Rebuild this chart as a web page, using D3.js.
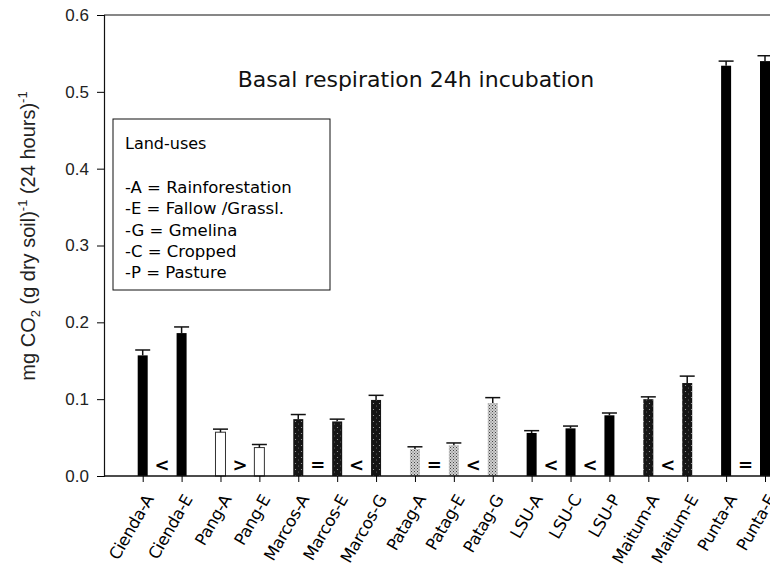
<!DOCTYPE html>
<html>
<head>
<meta charset="utf-8">
<script src="https://cdn.jsdelivr.net/npm/d3@7"></script>
<style>
  body { margin: 0; background: #fff; }
  svg { display: block; }
</style>
</head>
<body>
<script>

// land-use site categories, in plotting order
var categories = ["Cienda-A", "Cienda-E", "Pang-A", "Pang-E", "Marcos-A", "Marcos-E", "Marcos-G",
                  "Patag-A", "Patag-E", "Patag-G", "LSU-A", "LSU-C", "LSU-P",
                  "Maitum-A", "Maitum-E", "Punta-A", "Punta-E"];

// mean basal respiration (mg CO2 / g dry soil / 24h)
var means = [0.157, 0.186, 0.057, 0.037, 0.074, 0.071, 0.099, 0.035, 0.040, 0.095,
             0.056, 0.062, 0.079, 0.100, 0.121, 0.534, 0.540];

// standard error, drawn upward only
var errors = [0.007, 0.008, 0.004, 0.004, 0.006, 0.003, 0.006, 0.003, 0.003, 0.007,
              0.003, 0.003, 0.003, 0.003, 0.009, 0.006, 0.007];

// fill style per bar: black, open, dark speckle, light speckle
var fills = ["black", "black", "open", "open", "dark", "dark", "dark",
             "light", "light", "light", "black", "black", "black",
             "dark", "dark", "black", "black"];

// comparison signs printed between neighbouring bars
var compLeft  = ["Cienda-A", "Pang-A", "Marcos-A", "Marcos-E", "Patag-A", "Patag-E", "LSU-A", "LSU-C", "Maitum-A", "Punta-A"];
var compRight = ["Cienda-E", "Pang-E", "Marcos-E", "Marcos-G", "Patag-E", "Patag-G", "LSU-C", "LSU-P", "Maitum-E", "Punta-E"];
var compSigns = ["<", ">", "=", "<", "=", "<", "<", "<", "<", "="];

var yTicks = [0.0, 0.1, 0.2, 0.3, 0.4, 0.5, 0.6];

var legendTitle = "Land-uses";
var legendLines = ["-A = Rainforestation", "-E = Fallow /Grassl.", "-G = Gmelina", "-C = Cropped", "-P = Pasture"];

var title = "Basal respiration 24h incubation";

var width = 770, height = 577;
var margin = {top: 15, left: 104, bottom: 101};

var svg = d3.select("body")
  .append("svg")
  .attr("width", width)
  .attr("height", height);

var defs = svg.append("defs");

// dark speckled fill
var dark = defs.append("pattern")
  .attr("id", "dark")
  .attr("patternUnits", "userSpaceOnUse")
  .attr("width", 6).attr("height", 6);
dark.append("rect").attr("width", 6).attr("height", 6).attr("fill", "#151515");
dark.append("circle").attr("cx", 1.5).attr("cy", 1.5).attr("r", 0.6).attr("fill", "#aaa");
dark.append("circle").attr("cx", 4.5).attr("cy", 4).attr("r", 0.5).attr("fill", "#777");

// light crosshatch fill
var light = defs.append("pattern")
  .attr("id", "light")
  .attr("patternUnits", "userSpaceOnUse")
  .attr("width", 3).attr("height", 3);
light.append("rect").attr("width", 3).attr("height", 3).attr("fill", "#cfcfcf");
light.append("rect").attr("width", 1).attr("height", 1).attr("fill", "#444");
light.append("rect").attr("x", 1.5).attr("y", 1.5).attr("width", 1).attr("height", 1).attr("fill", "#666");

var yScale = d3.scaleLinear()
  .domain([0, 0.6])
  .range([height - margin.bottom, margin.top]);

// plot runs off the right edge, the last bar sits near 765
var xScale = d3.scalePoint()
  .domain(categories)
  .range([142.7, 765]);

var barW = 10, capW = 15;

var rows = categories.map(function(c, i){
  return {cat: c, mean: means[i], err: errors[i], fill: fills[i]};
});

function fillOf(d){
  if(d.fill === "black") return "#000";
  if(d.fill === "open") return "#fff";
  if(d.fill === "dark") return "url(#dark)";
  return "url(#light)";
}

// top frame line
svg.append("line")
  .attr("x1", margin.left).attr("x2", width + 10)
  .attr("y1", yScale(0.6)).attr("y2", yScale(0.6))
  .attr("stroke", "#111").attr("stroke-width", 1.2);

// title
svg.append("text")
  .attr("x", 416).attr("y", 87)
  .attr("text-anchor", "middle")
  .style("font-family", "'DejaVu Sans'")
  .style("font-size", "22px")
  .attr("fill", "#111")
  .text(title);

// legend box
var legend = svg.append("g").attr("transform", "translate(113,119)");
legend.append("rect")
  .attr("width", 217).attr("height", 171)
  .attr("fill", "#fff").attr("stroke", "#111").attr("stroke-width", 1);
legend.append("text")
  .attr("x", 12).attr("y", 30)
  .style("font-family", "'DejaVu Sans'").style("font-size", "16px")
  .text(legendTitle);
legend.selectAll(".entry")
  .data(legendLines)
  .enter()
  .append("text")
  .attr("class", "entry")
  .attr("x", 12)
  .attr("y", function(d, i){ return 74 + i * 21.3; })
  .style("font-family", "'DejaVu Sans'").style("font-size", "16.5px")
  .text(function(d){ return d; });

// bars
svg.selectAll(".bar")
  .data(rows)
  .enter()
  .append("rect")
  .attr("class", "bar")
  .attr("x", function(d){ return xScale(d.cat) - barW / 2; })
  .attr("y", function(d){ return yScale(d.mean); })
  .attr("width", barW)
  .attr("height", function(d){ return yScale(0) - yScale(d.mean); })
  .attr("fill", fillOf)
  .attr("stroke", function(d){ return d.fill === "open" ? "#333" : "none"; })
  .attr("stroke-width", 1);

// error bars (stem + cap)
var eb = svg.selectAll(".err")
  .data(rows)
  .enter()
  .append("g")
  .attr("class", "err")
  .attr("stroke", "#111")
  .attr("stroke-width", 1.5);
eb.append("line")
  .attr("x1", function(d){ return xScale(d.cat); })
  .attr("x2", function(d){ return xScale(d.cat); })
  .attr("y1", function(d){ return yScale(d.mean); })
  .attr("y2", function(d){ return yScale(d.mean + d.err); });
eb.append("line")
  .attr("x1", function(d){ return xScale(d.cat) - capW / 2; })
  .attr("x2", function(d){ return xScale(d.cat) + capW / 2; })
  .attr("y1", function(d){ return yScale(d.mean + d.err); })
  .attr("y2", function(d){ return yScale(d.mean + d.err); });

// comparison signs
svg.selectAll(".sign")
  .data(compSigns)
  .enter()
  .append("text")
  .attr("class", "sign")
  .attr("x", function(d, i){ return (xScale(compLeft[i]) + xScale(compRight[i])) / 2; })
  .attr("y", yScale(0) - 5)
  .attr("text-anchor", "middle")
  .style("font-family", "'DejaVu Sans'")
  .style("font-size", "18px")
  .style("font-weight", "bold")
  .text(function(d){ return d; });

// y axis
var yAxis = svg.append("g")
  .attr("transform", "translate(" + margin.left + ",0)")
  .call(d3.axisLeft(yScale).tickValues(yTicks).tickFormat(d3.format(".1f")).tickSize(7).tickPadding(8));
yAxis.select(".domain").attr("stroke", "#111").attr("stroke-width", 1.2);
yAxis.selectAll("text")
  .style("font-family", "'Liberation Sans'")
  .style("font-size", "17px")
  .attr("fill", "#222");

// x axis
var xAxis = svg.append("g")
  .attr("transform", "translate(0," + yScale(0) + ")")
  .call(d3.axisBottom(xScale).tickSize(6).tickSizeOuter(0));
xAxis.select(".domain").attr("d", "M" + margin.left + ",0H" + (width + 10)).attr("stroke", "#111").attr("stroke-width", 1.4);
xAxis.selectAll("text")
  .style("font-family", "'DejaVu Sans'")
  .style("font-size", "16.5px")
  .style("letter-spacing", "-0.3px")
  .attr("text-anchor", "end")
  .attr("dy", "0.35em")
  .attr("transform", "translate(6,20) rotate(-60)")
  .attr("y", 0)
  .attr("x", 0);

// y axis title
var yLab = svg.append("text")
  .attr("transform", "translate(35,236) rotate(-90)")
  .attr("text-anchor", "middle")
  .style("font-family", "'Liberation Sans'")
  .style("font-size", "20px")
  .attr("fill", "#222");
yLab.append("tspan").text("mg CO");
yLab.append("tspan").attr("dy", 5).style("font-size", "13px").text("2");
yLab.append("tspan").attr("dy", -5).text(" (g dry soil)");
yLab.append("tspan").attr("dy", -8).style("font-size", "13px").text("-1");
yLab.append("tspan").attr("dy", 8).text(" (24 hours)");
yLab.append("tspan").attr("dy", -8).style("font-size", "13px").text("-1");

</script>
</body>
</html>
